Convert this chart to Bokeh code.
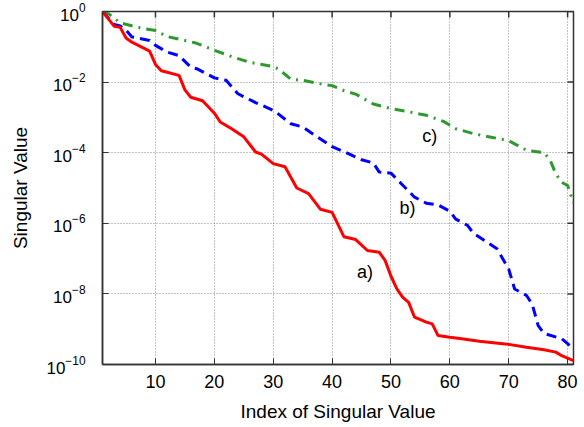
from bokeh.plotting import figure
from bokeh.models import FixedTicker, Range1d, ColumnDataSource
from bokeh.core.properties import value
from bokeh.embed import file_html
from bokeh.resources import INLINE
import math

# Singular value decay for three cases: (index, log10 of singular value) vertices
a_index = [1, 3, 4, 5, 6, 9, 10, 11, 14, 15, 16, 18, 20, 21, 23, 25, 27, 28, 30, 32,
           34, 36, 38, 40, 42, 44, 46, 48, 49, 50, 51, 52, 53, 54, 56, 57, 58, 60, 62,
           65, 69, 70, 73, 76, 78, 79, 81]
a_log10 = [0, -0.42, -0.45, -0.75, -0.87, -1.12, -1.5, -1.68, -1.81, -2.22, -2.43, -2.53,
           -2.88, -3.13, -3.33, -3.55, -3.98, -4.04, -4.31, -4.40, -5.0, -5.16, -5.6, -5.69,
           -6.38, -6.46, -6.77, -6.82, -7.05, -7.5, -7.86, -8.1, -8.24, -8.66, -8.8, -8.85,
           -9.18, -9.23, -9.27, -9.34, -9.41, -9.43, -9.51, -9.58, -9.65, -9.75, -9.89]

b_index = [1, 3, 4, 5, 6, 9, 10, 12, 14, 16, 17, 20, 22, 24, 27, 30, 31, 33, 35, 37, 40,
           42, 45, 47, 48, 50, 52, 54, 56, 58, 60, 61, 63, 64, 66, 68, 70, 71, 73, 74, 75,
           76, 79, 80, 81]
b_log10 = [0, -0.37, -0.41, -0.53, -0.72, -0.82, -0.96, -1.15, -1.25, -1.58, -1.62, -1.88,
           -1.95, -2.33, -2.58, -2.80, -2.92, -3.18, -3.27, -3.50, -3.83, -3.97, -4.2, -4.29,
           -4.55, -4.58, -4.92, -5.26, -5.43, -5.48, -5.66, -5.88, -6.06, -6.28, -6.50, -6.72,
           -7.3, -7.86, -8.04, -8.3, -8.9, -9.12, -9.27, -9.41, -9.58]

c_index = [1, 2, 4, 7, 10, 12, 15, 17, 20, 23, 26, 30, 31, 33, 35, 38, 40, 42, 44, 47, 50,
           53, 56, 59, 61, 64, 67, 70, 73, 76, 77, 78, 79, 80, 81]
c_log10 = [0, -0.06, -0.32, -0.45, -0.54, -0.71, -0.82, -0.9, -1.1, -1.28, -1.44, -1.56,
           -1.64, -1.92, -1.95, -2.05, -2.10, -2.24, -2.34, -2.62, -2.75, -2.84, -2.94, -3.12,
           -3.32, -3.46, -3.56, -3.66, -3.93, -4.0, -4.2, -4.6, -4.84, -4.93, -5.42]

curve_labels = ["a)", "b)", "c)"]
label_index = [45.6, 52.8, 56.6]
label_log10 = [-7.38, -5.56, -3.54]

x_ticks = [10, 20, 30, 40, 50, 60, 70, 80]
y_ticks = [1e0, 1e-2, 1e-4, 1e-6, 1e-8, 1e-10]

FONT = "Liberation Sans"
FRAME = "#333333"

p = figure(width=584, height=427, y_axis_type="log",
           x_range=Range1d(1, 81), y_range=Range1d(1e-10, 1e0),
           output_backend="svg", toolbar_location=None,
           min_border_left=102, min_border_right=11,
           min_border_top=11, min_border_bottom=63)
p.background_fill_color = "white"
p.border_fill_color = "white"
p.outline_line_color = FRAME
p.outline_line_width = 1.5

for axis in (p.xaxis[0], p.yaxis[0]):
    axis.axis_line_color = FRAME
    axis.axis_line_width = 1.5
    axis.major_tick_in = 6
    axis.major_tick_out = 0
    axis.minor_tick_in = 0
    axis.minor_tick_out = 0
    axis.major_tick_line_color = FRAME
    axis.major_label_text_font = FONT
    axis.major_label_text_color = "black"
    axis.axis_label_text_font = FONT
    axis.axis_label_text_font_size = "19px"
    axis.axis_label_text_font_style = "normal"
    axis.axis_label_text_color = "black"

p.xaxis.ticker = FixedTicker(ticks=x_ticks)
p.yaxis.ticker = FixedTicker(ticks=y_ticks)
p.xaxis.major_label_text_font_size = "18px"
p.yaxis.major_label_text_font_size = "17px"
p.xaxis.axis_label = "Index of Singular Value"
p.yaxis.axis_label = "Singular Value"
p.xaxis.major_label_standoff = 10
p.yaxis.major_label_standoff = 17
p.xaxis.axis_label_standoff = 10
p.yaxis.axis_label_standoff = 12

for g in (p.xgrid[0], p.ygrid[0]):
    g.grid_line_color = "#888888"
    g.grid_line_dash = "1 2"
    g.grid_line_width = 1
p.xgrid.ticker = FixedTicker(ticks=x_ticks)
p.ygrid.ticker = FixedTicker(ticks=y_ticks)

# mirrored inward tick marks along the top and right edges (clipped to the frame)
p.scatter(x_ticks, [y_ticks[0]] * len(x_ticks), marker="dash", size=12,
          angle=math.pi / 2, line_color=FRAME, line_width=1.5)
p.scatter([81] * len(y_ticks), y_ticks, marker="dash", size=12,
          line_color=FRAME, line_width=1.5)

a_vals = [10 ** v for v in a_log10]
b_vals = [10 ** v for v in b_log10]
c_vals = [10 ** v for v in c_log10]

p.line(c_index, c_vals, line_color="#2e9a2e", line_width=3, line_dash="10 6 2 6")
p.line(b_index, b_vals, line_color="#0000ff", line_width=3, line_dash="10 6")
p.line(a_index, a_vals, line_color="#ff0000", line_width=3)

lab = ColumnDataSource(dict(x=label_index, y=[10 ** v for v in label_log10], t=curve_labels))
p.text("x", "y", text="t", source=lab, text_font=value(FONT), text_font_size="18px",
       text_align="center", text_baseline="middle", text_color="black")

open("out.html", "w").write(file_html(p, INLINE))
